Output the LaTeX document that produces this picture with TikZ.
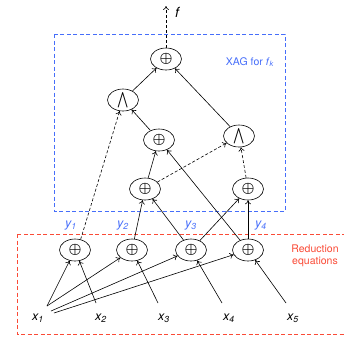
\documentclass[tikz,border=0pt]{standalone}
\usepackage{fontspec}
\setmainfont{TeX Gyre Heros}
\newfontfamily\symfont{DejaVu Sans}
\usetikzlibrary{shapes.geometric,arrows.meta}
\definecolor{xblue}{RGB}{70,110,250}
\definecolor{xred}{RGB}{250,75,55}
\begin{document}
\begin{tikzpicture}[x=1pt,y=-1pt,
  op/.style={ellipse,draw,line width=0.6pt,minimum width=31pt,minimum height=22pt,inner sep=0pt},
  arr/.style={-{To[length=4pt,width=6pt]},line width=0.6pt},
  darr/.style={arr,dash pattern=on 3pt off 2pt},
  lbl/.style={font=\fontsize{12.5}{12.5}\selectfont\itshape,inner sep=0pt},
  note/.style={font=\fontsize{10.5}{12.5}\selectfont,inner sep=0pt,align=center}]
\useasboundingbox (0,0) rectangle (344,341);
% boxes
\draw[xblue,line width=0.8pt,dash pattern=on 4pt off 2.5pt] (54,34) rectangle (285,211);
\draw[xred,line width=0.7pt,dash pattern=on 4pt off 2.5pt] (17,234) rectangle (348,334);
% nodes
\newcommand{\xo}{\scalebox{1.45}{\boldmath$\oplus$}}
\newcommand{\an}{\raisebox{-1pt}{\scalebox{1.35}[1.55]{\boldmath$\bigwedge$}}}
\node[op] (t) at (166,59) {\xo};
\node[op] (al) at (123,100) {\an};
\node[op] (m) at (159,140) {\xo};
\node[op] (ar) at (239,136) {\an};
\node[op] (ll) at (145,189) {\xo};
\node[op] (lr) at (248,189) {\xo};
\node[op] (r1) at (75,250) {\xo};
\node[op] (r2) at (132,250) {\xo};
\node[op] (r3) at (191,250) {\xo};
\node[op] (r4) at (248,250) {\xo};
% labels
\node[lbl] (x1) at (38,318) {x\textsubscript{1}};
\node[lbl] (x2) at (101,318) {x\textsubscript{2}};
\node[lbl] (x3) at (164,318) {x\textsubscript{3}};
\node[lbl] (x4) at (229,318) {x\textsubscript{4}};
\node[lbl] (x5) at (293,318) {x\textsubscript{5}};
\node[lbl,text=xblue] (y1) at (71,226) {y\textsubscript{1}};
\node[lbl,text=xblue] (y2) at (123,226) {y\textsubscript{2}};
\node[lbl,text=xblue] (y3) at (191,226) {y\textsubscript{3}};
\node[lbl,text=xblue] (y4) at (261,226) {y\textsubscript{4}};
\node[lbl,font=\fontsize{14}{14}\selectfont\itshape] (f) at (177,12) {f};
\node[note,text=xblue] (xag) at (250,62) {XAG for \textit{f}\textsubscript{\textit{k}}};
\node[note,text=xred] (red) at (315,256) {Reduction\\equations};
% free ends
\coordinate (top) at (166,6);
\coordinate (a1) at (47,306);
\coordinate (a2) at (51,311);
\coordinate (a3) at (54,313);
\coordinate (b2) at (96,303);
\coordinate (b3) at (158,303);
\coordinate (b4) at (222,303);
\coordinate (b5) at (286,303);
% edges
\draw[darr] (t) -- (top);
\draw[arr] (a1) -- (r1);
\draw[arr] (a1) -- (r2);
\draw[arr] (a2) -- (r3);
\draw[arr] (a3) -- (r4);
\draw[arr] (b2) -- (r1);
\draw[arr] (b3) -- (r2);
\draw[arr] (b4) -- (r3);
\draw[arr] (b5) -- (r4);
\draw[darr] (r1.62) -- (al);
\draw[arr] (r2) -- (ll);
\draw[arr] (r3) -- (ll);
\draw[arr] (r3) -- (lr);
\draw[arr] (r4) -- (lr);
\draw[arr] (r4) -- (m);
\draw[arr] (ll) -- (m);
\draw[darr] (ll) -- (ar);
\draw[darr] (lr) -- (ar);
\draw[arr] (m) -- (al);
\draw[arr] (al) -- (t);
\draw[arr] (ar) -- (t);
\end{tikzpicture}
\end{document}
